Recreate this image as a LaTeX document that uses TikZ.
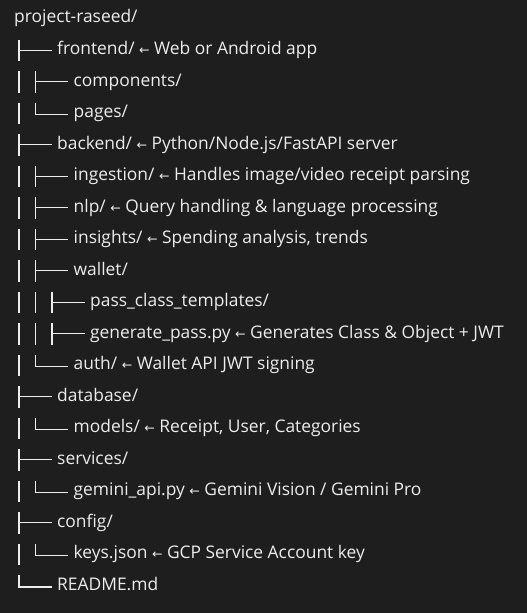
\documentclass[tikz,border=0pt]{standalone}
\usepackage{fontspec}
\setmainfont{Open Sans}
\newfontfamily\arrowfont{DejaVu Sans}
\usetikzlibrary{calc}

\definecolor{termbg}{HTML}{1E1E1E}
\definecolor{termfg}{HTML}{EDEDED}

% small left arrow between a name and its note
\newcommand{\noteArrow}{{\arrowfont\fontsize{12.5}{12}\selectfont ←}}

\begin{document}
\begin{tikzpicture}[x=1pt, y=-1pt, line cap=butt,
    entry/.style={anchor=west, inner sep=0pt, text height=14pt, text depth=4pt,
        text=termfg, font=\fontsize{17.4}{20}\selectfont},
    branch/.style={draw=termfg, line width=1.3pt}]
    \fill[termbg] (0,0) rectangle (527,613);
    \useasboundingbox (0,0) rectangle (527,613);

    % root
    \node[entry] (root) at (14, 18) {project-raseed/};

    % frontend
    \node[entry] (frontend) at (57, 49.5) {frontend/ \noteArrow{} Web or Android app};
    \node[entry] (components) at (73.5, 81) {components/};
    \node[entry] (pages) at (73.5, 112.5) {pages/};

    % backend
    \node[entry] (backend) at (57, 144) {backend/ \noteArrow{} Python/Node.js/FastAPI server};
    \node[entry] (ingestion) at (73.5, 175.5) {ingestion/ \noteArrow{} Handles image/video receipt parsing};
    \node[entry] (nlp) at (73.5, 207) {nlp/ \noteArrow{} Query handling \& language processing};
    \node[entry] (insights) at (73.5, 238.5) {insights/ \noteArrow{} Spending analysis, trends};
    \node[entry] (wallet) at (73.5, 270) {wallet/};
    \node[entry] (templates) at (90, 301.5) {pass\_class\_templates/};
    \node[entry] (genpass) at (90, 333) {generate\_pass.py \noteArrow{} Generates Class \& Object + JWT};
    \node[entry] (auth) at (73.5, 364.5) {auth/ \noteArrow{} Wallet API JWT signing};

    % database, services, config
    \node[entry] (database) at (57, 396) {database/};
    \node[entry] (models) at (73.5, 427.5) {models/ \noteArrow{} Receipt, User, Categories};
    \node[entry] (services) at (57, 459) {services/};
    \node[entry] (gemini) at (73.5, 490.5) {gemini\_api.py \noteArrow{} Gemini Vision / Gemini Pro};
    \node[entry] (config) at (57, 522) {config/};
    \node[entry] (keys) at (73.5, 553.5) {keys.json \noteArrow{} GCP Service Account key};
    \node[entry] (readme) at (57, 585) {README.md};

    % tree branches: tee = middle child, ell = last child
    \foreach \target/\lvl/\kind in {frontend/1/tee, components/2/tee, pages/2/ell,
            backend/1/tee, ingestion/2/tee, nlp/2/tee, insights/2/tee, wallet/2/tee,
            templates/3/tee, genpass/3/tee, auth/2/ell, database/1/tee, models/2/ell,
            services/1/tee, gemini/2/ell, config/1/tee, keys/2/ell, readme/1/ell} {
            \ifnum\lvl>1
                \foreach \b in {1,...,\numexpr\lvl-1\relax} {
                        \draw[branch] ($(\target.west)+({-38-16.5*(\lvl-\b)},-10)$)
                            -- ($(\target.west)+({-38-16.5*(\lvl-\b)},11.5)$);
                    }
            \fi
            \if t\kind
                \draw[branch] ($(\target.west)+(-38,-10)$) -- ($(\target.west)+(-38,11.5)$);
                \draw[branch] ($(\target.west)+(-38,0.7)$) -- ($(\target.west)+(-5.5,0.7)$);
            \else
                \draw[branch] ($(\target.west)+(-38,-10)$) |- ($(\target.west)+(-5.5,2)$);
            \fi
        }
\end{tikzpicture}
\end{document}
